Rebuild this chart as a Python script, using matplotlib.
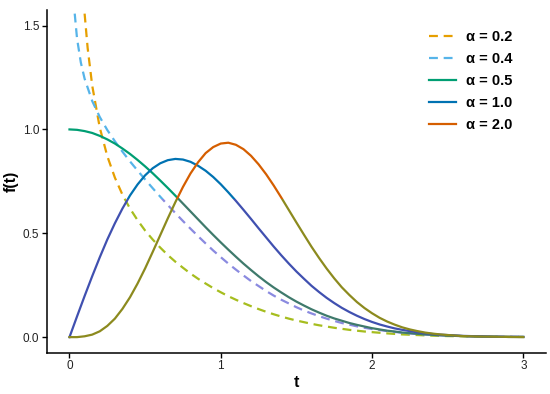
import matplotlib
matplotlib.use("Agg")
import matplotlib.pyplot as plt
from matplotlib.patches import Rectangle

plt.rcParams["font.family"] = ["Liberation Sans", "DejaVu Sans"]

# ---------------------------------------------------------------------------
# data (t on a 0.05 grid up to 2.5, then 0.1)
# ---------------------------------------------------------------------------
t_fine = [0.00, 0.05, 0.10, 0.15, 0.20, 0.25, 0.30, 0.35, 0.40, 0.45,
          0.50, 0.55, 0.60, 0.65, 0.70, 0.75, 0.80, 0.85, 0.90, 0.95,
          1.00, 1.05, 1.10, 1.15, 1.20, 1.25, 1.30, 1.35, 1.40, 1.45,
          1.50, 1.55, 1.60, 1.65, 1.70, 1.75, 1.80, 1.85, 1.90, 1.95,
          2.00, 2.05, 2.10, 2.15, 2.20, 2.25, 2.30, 2.35, 2.40, 2.45,
          2.50, 2.60, 2.70, 2.80, 2.90, 3.00]
t_tail = [2.1, 2.2, 2.3, 2.4, 2.5, 2.6, 2.7, 2.8, 2.9, 3.0]

# alpha = 0.2 (starts off the top of the panel)
t_a02 = [0.09, 0.10, 0.12] + t_fine[3:41] + t_tail
f_a02 = [1.668, 1.557, 1.392,
         1.212, 1.009, 0.871, 0.768, 0.686, 0.619, 0.563, 0.513, 0.470,
         0.431, 0.395, 0.363, 0.334, 0.306, 0.281, 0.258, 0.236, 0.216,
         0.197, 0.180, 0.164, 0.149, 0.135, 0.122, 0.110, 0.099, 0.089,
         0.080, 0.072, 0.064, 0.057, 0.051, 0.045, 0.040, 0.035, 0.031,
         0.027, 0.024,
         0.018, 0.013, 0.010, 0.007, 0.005, 0.004, 0.003, 0.002, 0.001,
         0.001]

# alpha = 0.4
t_a04 = [0.02, 0.03, 0.05, 0.075] + t_fine[2:41] + t_tail
f_a04 = [1.729, 1.593, 1.437, 1.322,
         1.244, 1.137, 1.060, 0.997, 0.943, 0.893, 0.846, 0.802, 0.759,
         0.717, 0.676, 0.636, 0.597, 0.559, 0.522, 0.486, 0.451, 0.417,
         0.385, 0.354, 0.325, 0.297, 0.270, 0.246, 0.222, 0.200, 0.180,
         0.162, 0.144, 0.128, 0.114, 0.101, 0.089, 0.078, 0.068, 0.060,
         0.052, 0.045, 0.039,
         0.029, 0.021, 0.015, 0.011, 0.007, 0.005, 0.003, 0.002, 0.002,
         0.001]

f_a05 = [1.000, 0.998, 0.992, 0.983, 0.969, 0.952, 0.932, 0.908, 0.882,
         0.853, 0.822, 0.789, 0.754, 0.718, 0.681, 0.643, 0.605, 0.567,
         0.529, 0.492, 0.456, 0.421, 0.387, 0.354, 0.323, 0.293, 0.265,
         0.239, 0.215, 0.192, 0.171, 0.152, 0.134, 0.118, 0.103, 0.090,
         0.079, 0.068, 0.059, 0.051, 0.043, 0.037, 0.031, 0.027, 0.022,
         0.019, 0.016, 0.013, 0.011, 0.009, 0.007, 0.005, 0.003, 0.002,
         0.001, 0.001]

f_a10 = [0.000, 0.100, 0.198, 0.293, 0.384, 0.470, 0.548, 0.619, 0.682,
         0.735, 0.779, 0.813, 0.837, 0.852, 0.858, 0.855, 0.844, 0.825,
         0.801, 0.771, 0.736, 0.697, 0.656, 0.613, 0.569, 0.524, 0.480,
         0.436, 0.394, 0.354, 0.316, 0.281, 0.247, 0.217, 0.189, 0.164,
         0.141, 0.121, 0.103, 0.087, 0.073, 0.061, 0.051, 0.042, 0.035,
         0.029, 0.023, 0.019, 0.015, 0.012, 0.010, 0.006, 0.004, 0.002,
         0.001, 0.001]

f_a20 = [0.000, 0.000, 0.004, 0.012, 0.028, 0.054, 0.089, 0.136, 0.192,
         0.258, 0.331, 0.410, 0.491, 0.572, 0.650, 0.723, 0.788, 0.842,
         0.886, 0.915, 0.932, 0.936, 0.926, 0.905, 0.873, 0.832, 0.784,
         0.730, 0.672, 0.612, 0.552, 0.493, 0.435, 0.381, 0.330, 0.283,
         0.240, 0.203, 0.169, 0.140, 0.115, 0.093, 0.075, 0.060, 0.047,
         0.037, 0.029, 0.022, 0.017, 0.013, 0.010, 0.005, 0.003, 0.002,
         0.001, 0.000]

labels = ["α = 0.2", "α = 0.4", "α = 0.5", "α = 1.0", "α = 2.0"]

# legend colours, and the tinted colours the curves take in the lower band
COLORS = ["#E69F00", "#56B4E9", "#009E73", "#0072B2", "#D55E00"]
LOW_COLORS = ["#a6bd1e", "#8a8ae0", "#3f7a6c", "#4050b0", "#8c8a1e"]
STYLES = ["dashed", "dashed", "solid", "solid", "solid"]
SHIFT_LEVEL = 0.667  # f value where the tint changes

YMIN, YMAX = -0.075, 1.575

fig = plt.figure(figsize=(5.5, 3.94), dpi=100)
ax = fig.add_axes([46.8 / 550, 41.3 / 394, 499.2 / 550, 342.7 / 394])
ax.set_xlim(-0.15, 3.15)
ax.set_ylim(YMIN, YMAX)

split = (SHIFT_LEVEL - YMIN) / (YMAX - YMIN)
series = [(t_a02, f_a02), (t_a04, f_a04), (t_fine, f_a05),
          (t_fine, f_a10), (t_fine, f_a20)]

handles = []
for (tt, ff), c_hi, c_lo, ls, lab in zip(series, COLORS, LOW_COLORS, STYLES, labels):
    dash = dict(dashes=(4, 2.6)) if ls == "dashed" else {}
    hi, = ax.plot(tt, ff, color=c_hi, lw=1.6, label=lab, **dash)
    lo, = ax.plot(tt, ff, color=c_lo, lw=1.6, **dash)
    top = Rectangle((0, split), 1, 1 - split, transform=ax.transAxes)
    bot = Rectangle((0, 0), 1, split, transform=ax.transAxes)
    hi.set_clip_path(top)
    lo.set_clip_path(bot)
    handles.append(hi)

for side in ("top", "right"):
    ax.spines[side].set_visible(False)
for side in ("left", "bottom"):
    ax.spines[side].set_linewidth(1.1)

ax.set_xticks([0, 1, 2, 3])
ax.set_xticklabels(["0", "1", "2", "3"])
ax.set_yticks([0.0, 0.5, 1.0, 1.5])
ax.set_yticklabels(["0.0", "0.5", "1.0", "1.5"])
ax.tick_params(length=3.5, width=1.0, labelsize=8.5, labelcolor="#222222", pad=2)

ax.set_xlabel("t", fontsize=11.5, fontweight="bold", labelpad=2)
ax.set_ylabel("f(t)", fontsize=11.5, fontweight="bold", labelpad=3)

ax.legend(handles=handles, loc="upper left", bbox_to_anchor=(0.7656, 0.941),
          frameon=False, prop={"weight": "bold", "size": 10.5},
          handlelength=1.85, handletextpad=0.68, labelspacing=0.55,
          borderpad=0, borderaxespad=0)

fig.savefig("out.png", dpi=100, facecolor="white")
